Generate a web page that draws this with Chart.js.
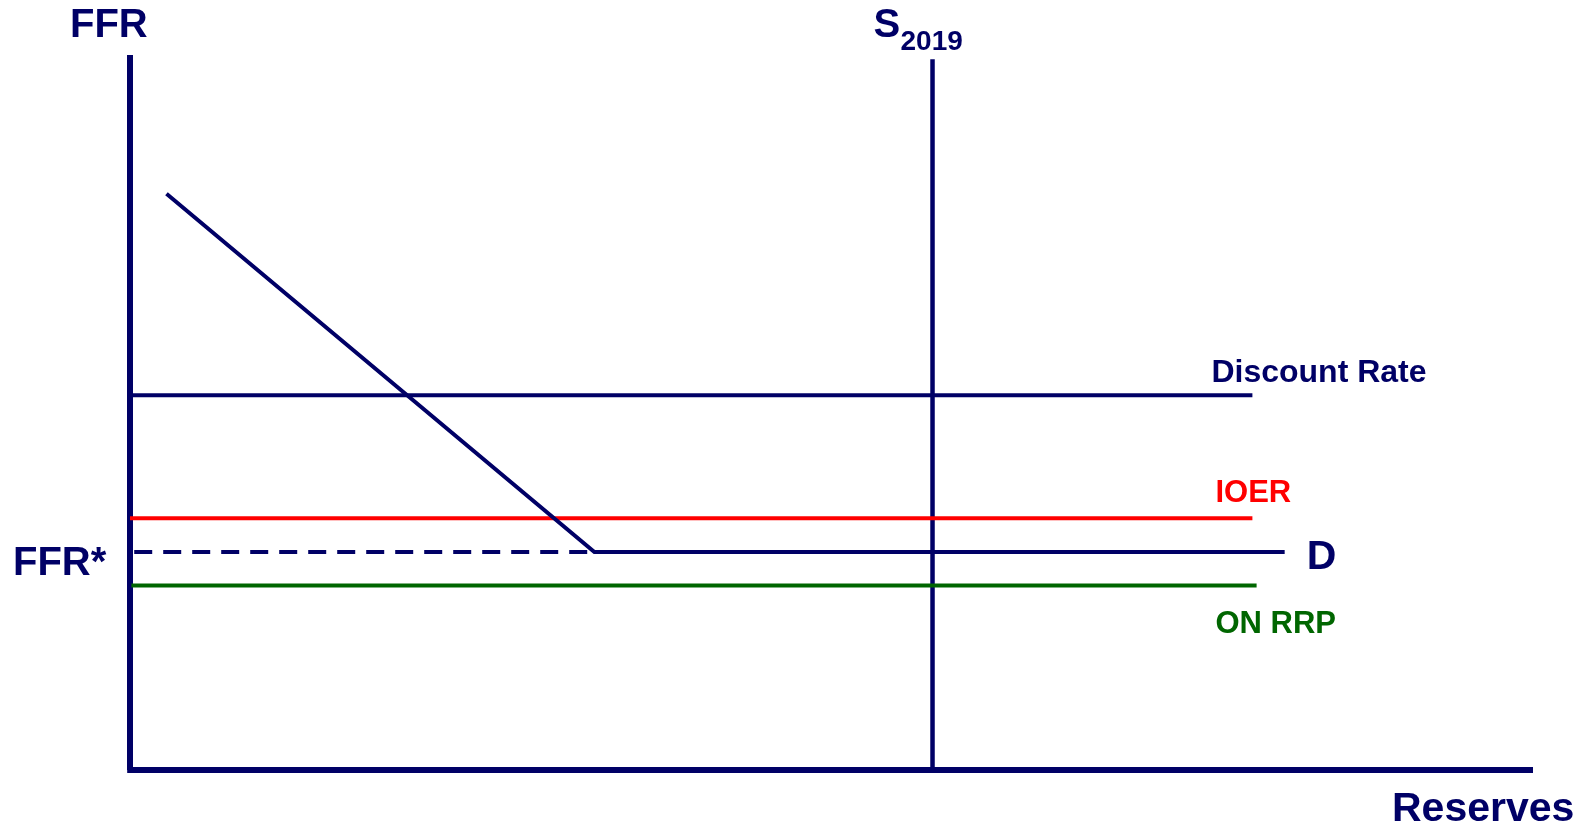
<!DOCTYPE html>
<html><head><meta charset="utf-8">
<script src="https://cdn.jsdelivr.net/npm/chart.js@4/dist/chart.umd.min.js"></script>
<style>html,body{margin:0;padding:0;background:#fff;overflow:hidden}canvas{display:block}</style>
</head><body>
<canvas id="c" width="1588" height="826"></canvas>
<script>
// Conceptual chart: abstract units 0..100 on both axes
const xRange = [0, 100];
const yRange = [0, 100];
const demandX = [2.6, 33.1, 82.3];
const demandY = [80.6, 30.5, 30.5];
const ffrStar = 30.5;
const ffrStarX = [0.3, 33.1];
const discountRate = 52.4;
const ioer = 35.2;
const onRrp = 25.8;
const policyX = [0, 80.0];
const onRrpX = [0.1, 80.3];
const supply2019 = 57.2;
const supplyY = [-0.4, 99.4];
const labels = { yAxis: 'FFR', xAxis: 'Reserves', supply: 'S', supplySub: '2019', discount: 'Discount Rate', ioer: 'IOER', demand: 'D', onrrp: 'ON RRP', ffrStar: 'FFR*' };

const NAVY = '#000066', RED = '#ff0000', GREEN = '#006600';
const pts = (xs, ys) => xs.map((v, i) => ({x: v, y: ys[i]}));
const line = (data, color, width, extra) => Object.assign({data, borderColor: color, borderWidth: width, pointRadius: 0, showLine: true, fill: false, clip: false, tension: 0}, extra || {});

const labelPlugin = {
  id: 'labels',
  afterDatasetsDraw(chart) {
    const {ctx, scales: {x, y}} = chart;
    ctx.save();
    ctx.textAlign = 'left';
    ctx.textBaseline = 'alphabetic';
    const T = (t, px, py, size, color) => {
      ctx.font = `bold ${size}px "Liberation Sans", Arial, sans-serif`;
      ctx.fillStyle = color;
      ctx.fillText(t, px, py);
    };
    T(labels.yAxis, x.getPixelForValue(0) - 60, y.getPixelForValue(yRange[1]) - 18, 40, NAVY);
    T(labels.supply, x.getPixelForValue(supply2019) - 59, y.getPixelForValue(yRange[1]) - 18, 40, NAVY);
    T(labels.supplySub, x.getPixelForValue(supply2019) - 32, y.getPixelForValue(yRange[1]) - 5, 28, NAVY);
    T(labels.discount, x.getPixelForValue(policyX[1]) - 41, y.getPixelForValue(discountRate) - 13, 32, NAVY);
    T(labels.ioer, x.getPixelForValue(policyX[1]) - 37, y.getPixelForValue(ioer) - 16, 31, RED);
    T(labels.demand, x.getPixelForValue(demandX[2]) + 22, y.getPixelForValue(demandY[2]) + 17, 41, NAVY);
    T(labels.onrrp, x.getPixelForValue(policyX[1]) - 37, y.getPixelForValue(onRrp) + 47, 31, GREEN);
    T(labels.ffrStar, x.getPixelForValue(0) - 117, y.getPixelForValue(ffrStar) + 23, 40, NAVY);
    T(labels.xAxis, x.getPixelForValue(xRange[1]) - 141, y.getPixelForValue(0) + 51, 41, NAVY);
    ctx.restore();
  }
};

new Chart(document.getElementById('c'), {
  type: 'scatter',
  data: {
    datasets: [
      line(pts(demandX, demandY), NAVY, 4),
      line(pts(ffrStarX, [ffrStar, ffrStar]), NAVY, 4, {borderDash: [18, 11]}),
      line(pts(policyX, [discountRate, discountRate]), NAVY, 4),
      line(pts(policyX, [ioer, ioer]), RED, 4),
      line(pts(onRrpX, [onRrp, onRrp]), GREEN, 4),
      line(pts([supply2019, supply2019], supplyY), NAVY, 4.5),
      line(pts([0, 0], [yRange[0], yRange[1]]), NAVY, 6, {borderCapStyle: 'butt'}),
      line(pts([-0.2, xRange[1]], [0, 0]), NAVY, 6, {borderCapStyle: 'butt'})
    ]
  },
  options: {
    responsive: false,
    animation: false,
    events: [],
    layout: {padding: {left: 130, right: 55, top: 55, bottom: 56}},
    scales: {
      x: {type: 'linear', min: xRange[0], max: xRange[1], display: false},
      y: {type: 'linear', min: yRange[0], max: yRange[1], display: false}
    },
    plugins: {legend: {display: false}, tooltip: {enabled: false}}
  },
  plugins: [labelPlugin]
});
</script>
</body></html>
